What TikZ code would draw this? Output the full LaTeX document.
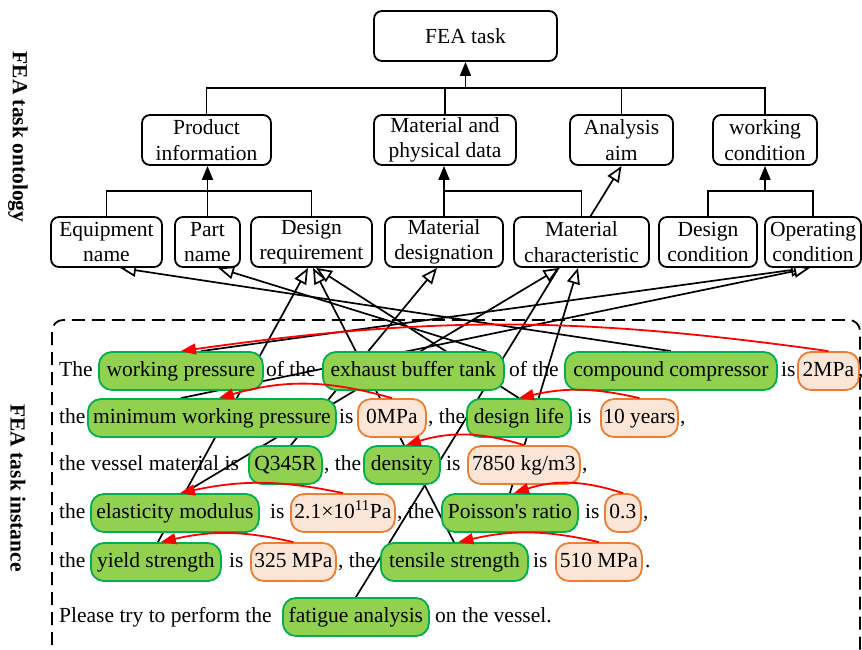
\documentclass[tikz,border=0pt]{standalone}
\usepackage{fontspec}
\setmainfont{Liberation Serif}
\usetikzlibrary{arrows.meta,backgrounds}
\definecolor{termfill}{HTML}{92D050}
\definecolor{termline}{HTML}{00B050}
\definecolor{valfill}{HTML}{FBE5D6}
\definecolor{valline}{HTML}{ED7D31}
\newcommand{\figfont}{\fontsize{21.5}{25.5}\selectfont}

\begin{document}
\begin{tikzpicture}[x=1pt,y=-1pt,
  every node/.style={font=\figfont},
  ont/.style={draw, line width=1.8pt, rounded corners=8pt, fill=white, align=center,
    inner sep=0pt, minimum height=50pt},
  word/.style={inner sep=0pt, text height=15pt, text depth=5pt, anchor=west},
  term/.style={word, draw=termline, fill=termfill, line width=1.8pt, rounded corners=13pt,
    minimum height=38pt},
  val/.style={word, draw=valline, fill=valfill, line width=1.8pt, rounded corners=13pt,
    minimum height=38pt},
  tree/.style={line width=1.8pt},
  treearrow/.style={tree, -{Triangle[length=14pt,width=11pt]}},
  isa/.style={line width=1.7pt, -{Triangle[open,fill=white,length=16pt,width=13pt]}},
  hasval/.style={red, line width=1.8pt, -{Triangle[length=15pt,width=11pt]}},
  side/.style={rotate=-90, font=\figfont\bfseries}
]
\useasboundingbox (0,0) rectangle (862,650);

% ---------- ontology ----------
\node[ont, minimum width=183pt] (fea) at (465.5,36) {FEA task};
\node[ont, minimum width=129pt] (pi) at (206.5,140) {Product\\information};
\node[ont, minimum width=142pt] (mp) at (445,140) {Material and\\physical data};
\node[ont, minimum width=103pt] (aa) at (621.5,140) {Analysis\\aim};
\node[ont, minimum width=104pt] (wc) at (765,140) {working\\condition};
\node[ont, minimum width=111pt] (en) at (106.5,242) {Equipment\\name};
\node[ont, minimum width=65pt]  (pn) at (207.5,242) {Part\\name};
\node[ont, minimum width=121pt] (dr) at (311.5,242) {Design\\requirement};
\node[ont, minimum width=118pt] (md) at (444,242) {Material\\designation};
\node[ont, minimum width=135pt] (mc) at (581.5,242) {Material\\characteristic};
\node[ont, minimum width=98pt]  (dc) at (708,242) {Design\\condition};
\node[ont, minimum width=96pt]  (oc) at (813,242) {Operating\\condition};

% hierarchy
\coordinate (b0) at (465.5,88);
\draw[tree] (pi.north) |- (b0) -| (wc.north);
\draw[tree] (mp.north) -- (mp.north |- b0);
\draw[tree] (aa.north) -- (aa.north |- b0);
\draw[treearrow] (b0) -- (fea.south);

\coordinate (b1) at (207.5,191);
\draw[tree] (en.north) |- (b1) -| (dr.north);
\draw[tree] (pn.north) -- (b1);
\draw[treearrow] (b1) -- (b1 |- pi.south);

\coordinate (b2) at (444,191);
\draw[tree] (md.north) |- (b2) -| (mc.north);
\draw[treearrow] (b2) -- (b2 |- mp.south);

\coordinate (b3) at (765,191);
\draw[tree] (dc.north) |- (b3) -| (oc.north);
\draw[treearrow] (b3) -- (wc.south);

% ---------- instance ----------
% row 1
\node[word] (r1a) at (59,371) {The};
\node[term, minimum width=164pt] (wp) at (98,371) {working pressure};
\node[word] (r1b) at (266,371) {of the};
\node[term, minimum width=181pt] (ebt) at (322,371) {exhaust buffer tank};
\node[word] (r1c) at (509,371) {of the};
\node[term, minimum width=212pt] (cc) at (564,371) {compound compressor};
\node[word] (r1d) at (781,371) {is};
\node[val, minimum width=61pt] (v2) at (797,371) {2MPa};
\node[word] (r1e) at (858,371) {,};
% row 2
\node[word] (r2a) at (59,418) {the};
\node[term, minimum width=248pt] (mwp) at (87,418) {minimum working pressure};
\node[word] (r2b) at (339,418) {is};
\node[val, minimum width=68pt] (v0) at (357,418) {0MPa};
\node[word] (r2c) at (428,418) {, the};
\node[term, minimum width=104pt] (dl) at (466,418) {design life};
\node[word] (r2d) at (577,418) {is};
\node[val, minimum width=77pt] (vy) at (600,418) {10 years};
\node[word] (r2e) at (680,418) {,};
% row 3
\node[word] (r3a) at (59,465) {the vessel material is};
\node[term, minimum width=73pt] (q) at (248,465) {Q345R};
\node[word] (r3b) at (324,465) {, the};
\node[term, minimum width=76pt] (den) at (363,465) {density};
\node[word] (r3c) at (446,465) {is};
\node[val, minimum width=112pt] (vd) at (467,465) {7850 kg/m3};
\node[word] (r3d) at (582,465) {,};
% row 4
\node[word] (r4a) at (59,513) {the};
\node[term, minimum width=168pt] (em) at (90,513) {elasticity modulus};
\node[word] (r4b) at (270,513) {is};
\node[val, minimum width=104pt] (ve) at (290,513) {2.1×10\textsuperscript{11}Pa};
\node[word] (r4c) at (397,513) {, the};
\node[term, minimum width=136pt] (pr) at (441,513) {Poisson\textquotesingle s ratio};
\node[word] (r4d) at (585,513) {is};
\node[val, minimum width=36pt] (vp) at (604,513) {0.3};
\node[word] (r4e) at (643,513) {,};
% row 5
\node[word] (r5a) at (59,562) {the};
\node[term, minimum width=130pt] (ys) at (90,562) {yield strength};
\node[word] (r5b) at (229,562) {is};
\node[val, minimum width=85pt] (vys) at (250,562) {325 MPa};
\node[word] (r5c) at (338,562) {, the};
\node[term, minimum width=147pt] (ts) at (380,562) {tensile strength};
\node[word] (r5d) at (533,562) {is};
\node[val, minimum width=86pt] (vts) at (555,562) {510 MPa};
\node[word] (r5e) at (645,562) {.};
% row 6
\node[word] (r6a) at (59,617) {Please try to perform the};
\node[term, minimum width=146pt] (fa) at (282,617) {fatigue analysis};
\node[word] (r6b) at (435,617) {on the vessel.};

% side labels
\node[side] (lab1) at (18,137) {FEA task ontology};
\node[side] (lab2) at (18,488) {FEA task instance};

% ---------- instance-of links, beneath the boxes ----------
\begin{pgfonlayer}{background}
\draw[line width=1.8pt, dash pattern=on 13pt off 7pt, rounded corners=11pt]
  (52,665) -- (52,320) -- (860,320) -- (860,665);
\draw[isa] (cc.north) -- ([xshift=13.5pt]en.south);
\draw[isa] ([xshift=73pt]ebt.north) -- ([xshift=10.5pt]pn.south);
\draw[isa] ([xshift=2pt]ys.north) -- ([xshift=-3.5pt]dr.south);
\draw[isa] ([xshift=-0.5pt]ts.north) -- ([xshift=1.5pt]dr.south);
\draw[isa] (dl.north) -- ([xshift=4.5pt]dr.south);
\draw[isa] ([xshift=5.5pt]q.north) -- ([xshift=-7pt]md.south);
\draw[isa] ([xshift=9pt]em.north) -- ([xshift=-22pt]mc.south);
\draw[isa] (pr.north) -- ([xshift=-3.5pt]mc.south);
\draw[isa] (fa.north) -- (aa.south);
\draw[isa] ([xshift=20pt]wp.north) -- ([xshift=-6pt]oc.south);
\draw[isa] ([xshift=-31pt]mwp.north) -- ([xshift=-3pt]oc.south);
\end{pgfonlayer}

% ---------- value links ----------
\draw[hasval] (v2.north) to[bend right=8] (wp.north);
\draw[hasval] (v0.north) to[bend right=16] ([xshift=7pt]mwp.north);
\draw[hasval] (vy.north) to[bend right=13] (dl.north);
\draw[hasval] (vd.north) to[bend right=17] ([xshift=4pt]den.north);
\draw[hasval] (ve.north) to[bend right=12] ([xshift=5pt]em.north);
\draw[hasval] (vp.north) to[bend right=18] ([xshift=4pt]pr.north);
\draw[hasval] (vys.north) to[bend right=13] ([xshift=5pt]ys.north);
\draw[hasval] (vts.north) to[bend right=13] ([xshift=4pt]ts.north);
\end{tikzpicture}
\end{document}
